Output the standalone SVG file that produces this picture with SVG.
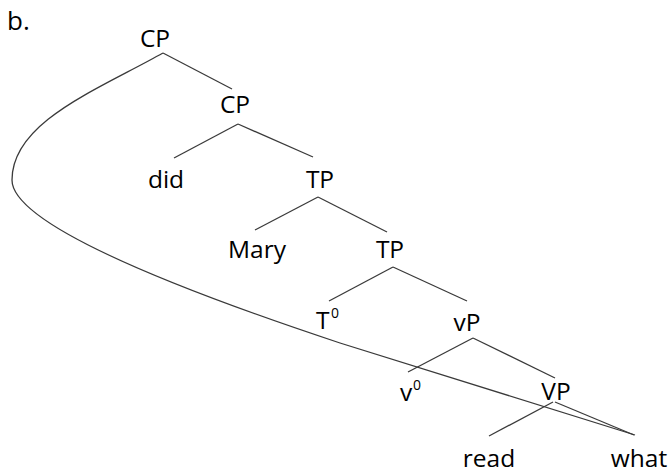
<svg xmlns="http://www.w3.org/2000/svg" width="668" height="474" viewBox="0 0 668 474">
<style>
text{font-family:"Open Sans","Noto Sans",sans-serif;font-size:24.5px;fill:#000;text-anchor:middle}
.sup{font-size:14px;text-anchor:start}
.st{text-anchor:start}
.e line,.e path{stroke:#3a3a3a;stroke-width:1.3;fill:none}
</style>
<rect width="668" height="474" fill="#fff"/>
<text class="st" x="7" y="30" style="font-size:26px">b.</text>
<g id="CP1"><text x="155" y="47">CP</text></g>
<g id="CP2"><text x="235" y="113">CP</text></g>
<g id="did"><text x="166" y="188">did</text></g>
<g id="TP1"><text x="320" y="188">TP</text></g>
<g id="Mary"><text x="257" y="258">Mary</text></g>
<g id="TP2"><text x="390" y="258">TP</text></g>
<g id="T0"><text class="st" x="316" y="329">T</text><text class="sup" x="331" y="318">0</text></g>
<g id="vP"><text x="467" y="331">vP</text></g>
<g id="v0"><text class="st" x="400" y="401">v</text><text class="sup" x="413" y="390">0</text></g>
<g id="VP"><text x="556" y="400">VP</text></g>
<g id="read"><text x="489" y="467">read</text></g>
<g id="what"><text x="639" y="467">what</text></g>
<g class="e" id="connectors">
<line x1="163" y1="53" x2="232" y2="89"/>
<line x1="238" y1="124" x2="174" y2="158"/>
<line x1="238" y1="124" x2="313" y2="157"/>
<line x1="318" y1="197" x2="255" y2="230"/>
<line x1="318" y1="197" x2="387" y2="232"/>
<line x1="393" y1="267" x2="329" y2="301"/>
<line x1="393" y1="267" x2="467" y2="301"/>
<line x1="473" y1="338" x2="408" y2="372"/>
<line x1="473" y1="338" x2="555" y2="378"/>
<line x1="553" y1="402" x2="489" y2="436"/>
<line x1="555" y1="402" x2="634" y2="435"/>
<path d="M163,53 C97,90 12,122 12,180 C12,225 180,290 340,343 L635,435"/>
</g>
</svg>
